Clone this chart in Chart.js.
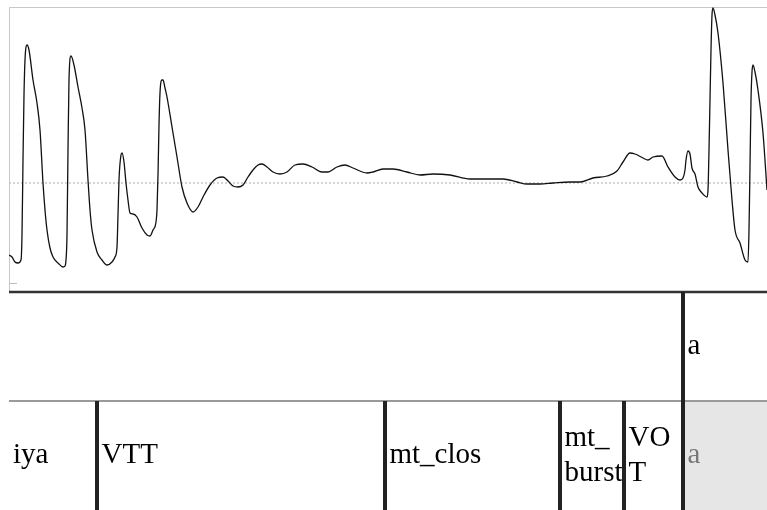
<!DOCTYPE html>
<html>
<head>
<meta charset="utf-8">
<script src="https://cdn.jsdelivr.net/npm/chart.js@4/dist/chart.umd.min.js"></script>
<style>
  html, body { margin: 0; padding: 0; background: #ffffff; }
  #wrap { width: 767px; height: 510px; position: relative; }
</style>
</head>
<body>
<div id="wrap"><canvas id="c" width="767" height="510"></canvas></div>
<script>
// ---- Data ----
// time axis (arbitrary units, 0..758) and waveform amplitude (arbitrary units, -109..176)
const timeValues = [
  0, 3, 6, 9, 12, 13, 14, 15, 16, 18, 20, 24, 28, 31, 34, 36, 38, 41, 44, 49,
  54, 56, 57, 58, 59, 60, 62, 65, 69, 73, 76, 79, 81, 83, 88, 93, 98, 103, 106, 108,
  109, 110, 112, 113, 115, 117, 119, 121, 124, 128, 133, 138, 141, 144, 147, 148, 149, 150, 151, 153,
  154, 156, 158, 163, 168, 173, 178, 184, 189, 194, 201, 208, 214, 219, 224, 229, 234, 239, 244, 249,
  253, 258, 264, 271, 278, 286, 294, 303, 313, 319, 328, 336, 344, 358, 364, 374, 384, 398, 411, 424,
  441, 461, 478, 494, 508, 518, 531, 544, 561, 571, 584, 598, 608, 614, 621, 626, 634, 639, 644, 653,
  659, 666, 671, 674, 676, 677, 679, 681, 683, 686, 689, 693, 698, 699, 700, 701, 702, 703, 704, 706,
  709, 714, 719, 723, 726, 731, 736, 739, 740, 741, 742, 743, 744, 746, 749, 754, 758
];
const amplitudeValues = [
  -72, -74, -79, -80, -77, -52, 23, 88, 123, 138, 133, 103, 80, 53, 0, -27, -47, -65, -74, -80,
  -84, -83, -77, -52, 33, 103, 127, 118, 96, 75, 53, 3, -27, -47, -69, -77, -82, -79, -74, -64,
  -32, 3, 28, 30, 21, 0, -17, -30, -31, -34, -45, -52, -53, -47, -39, -27, 8, 58, 90, 103,
  103, 95, 86, 56, 26, -4, -20, -29, -24, -14, -2, 5, 6, 2, -3, -4, -2, 6, 13, 18,
  19, 16, 11, 9, 11, 18, 19, 16, 11, 11, 16, 18, 15, 10, 11, 14, 14, 11, 8, 9,
  8, 4, 4, 4, 1, -1, -1, 0, 1, 1, 5, 7, 12, 21, 30, 29, 25, 23, 26, 27,
  16, 6, 3, 5, 13, 23, 32, 29, 15, 9, -4, -10, -14, -7, 33, 83, 133, 168, 175, 168,
  150, 100, 33, -17, -47, -60, -77, -79, -47, 16, 83, 111, 118, 111, 93, 50, -7
];
const timeRange = [0, 758];
const amplitudeRange = [-109, 176];

// annotation tiers: boundary times and interval labels
const tier1Boundaries = [674];
const tier1Labels = ["", "a"];
const tier2Boundaries = [88, 376, 551, 615, 674];
const tier2Labels = ["iya", "VTT", "mt_clos", "mt_\nburst", "VO\nT", "a"];

// ---- Chart ----
const waveData = timeValues.map((t, i) => ({ x: t, y: amplitudeValues[i] }));
const zeroData = [{ x: timeRange[0], y: 0 }, { x: timeRange[1], y: 0 }];

const FONT = "29px \"Liberation Serif\", \"Times New Roman\", Tinos, serif";

const tiersPlugin = {
  id: 'tiers',
  beforeDatasetsDraw(chart) {
    const ctx = chart.ctx;
    const a = chart.chartArea;
    ctx.save();
    ctx.strokeStyle = '#c8c8c8';
    ctx.lineWidth = 1;
    ctx.beginPath();
    ctx.moveTo(a.left, a.top + 0.5);
    ctx.lineTo(a.right, a.top + 0.5);
    ctx.moveTo(a.left + 0.5, a.top);
    ctx.lineTo(a.left + 0.5, a.bottom);
    ctx.stroke();
    ctx.strokeStyle = '#bbbbbb';
    ctx.beginPath();
    ctx.moveTo(a.left + 1, a.bottom - 8.5);
    ctx.lineTo(a.left + 8, a.bottom - 8.5);
    ctx.stroke();
    ctx.restore();
  },
  afterDraw(chart) {
    const ctx = chart.ctx;
    const a = chart.chartArea;
    const xs = chart.scales.x;
    const W = chart.width, H = chart.height;
    const row1Top = a.bottom, row2Top = a.bottom + 109, row2Bot = H;
    ctx.save();

    const lastX = xs.getPixelForValue(tier2Boundaries[tier2Boundaries.length - 1]);
    ctx.fillStyle = '#e6e6e6';
    ctx.fillRect(lastX + 2, row2Top + 1, W - lastX - 2, row2Bot - row2Top - 1);

    ctx.strokeStyle = '#9a9a9a';
    ctx.lineWidth = 2;
    ctx.beginPath();
    ctx.moveTo(a.left, row2Top);
    ctx.lineTo(W, row2Top);
    ctx.stroke();

    ctx.strokeStyle = '#333333';
    ctx.lineWidth = 2.5;
    ctx.beginPath();
    ctx.moveTo(a.left, row1Top);
    ctx.lineTo(W, row1Top);
    ctx.stroke();

    ctx.strokeStyle = '#222222';
    ctx.lineWidth = 4;
    tier1Boundaries.forEach(b => {
      const x = xs.getPixelForValue(b);
      ctx.beginPath(); ctx.moveTo(x, row1Top); ctx.lineTo(x, row2Top); ctx.stroke();
    });
    tier2Boundaries.forEach(b => {
      const x = xs.getPixelForValue(b);
      ctx.beginPath(); ctx.moveTo(x, row2Top); ctx.lineTo(x, row2Bot); ctx.stroke();
    });

    ctx.font = FONT;
    ctx.textBaseline = 'middle';
    ctx.textAlign = 'left';
    const drawLabels = (bounds, labels, top, bot, shadeLast) => {
      const starts = [timeRange[0]].concat(bounds);
      labels.forEach((lab, i) => {
        if (!lab) return;
        const x0 = xs.getPixelForValue(starts[i]) + (i === 0 ? 4 : 4.5);
        const lines = lab.split('\n');
        const lh = 35;
        const cy = (top + bot) / 2 - (lines.length - 1) * lh / 2;
        ctx.fillStyle = (shadeLast && i === labels.length - 1) ? '#777777' : '#000000';
        lines.forEach((ln, k) => ctx.fillText(ln, x0, cy + k * lh));
      });
    };
    drawLabels(tier1Boundaries, tier1Labels, row1Top, row2Top, false);
    drawLabels(tier2Boundaries, tier2Labels, row2Top, row2Bot, true);
    ctx.restore();
  }
};

function makeChart() {
  new Chart(document.getElementById('c'), {
    type: 'line',
    data: {
      datasets: [
        {
          label: 'waveform',
          data: waveData,
          borderColor: '#111111',
          borderWidth: 1.3,
          pointRadius: 0,
          cubicInterpolationMode: 'monotone',
          fill: false
        },
        {
          label: 'zero',
          data: zeroData,
          borderColor: '#c8c8c8',
          borderWidth: 1.5,
          borderDash: [2, 2],
          pointRadius: 0,
          fill: false
        }
      ]
    },
    options: {
      responsive: false,
      devicePixelRatio: 1,
      animation: false,
      layout: { padding: { left: 9, top: 7, right: 0, bottom: 218 } },
      plugins: { legend: { display: false }, tooltip: { enabled: false } },
      scales: {
        x: { type: 'linear', min: timeRange[0], max: timeRange[1], display: false },
        y: { type: 'linear', min: amplitudeRange[0], max: amplitudeRange[1], display: false }
      }
    },
    plugins: [tiersPlugin]
  });
}

if (document.fonts && document.fonts.load) {
  document.fonts.load("29px \"Liberation Serif\"").then(makeChart, makeChart);
} else {
  makeChart();
}
</script>
</body>
</html>
